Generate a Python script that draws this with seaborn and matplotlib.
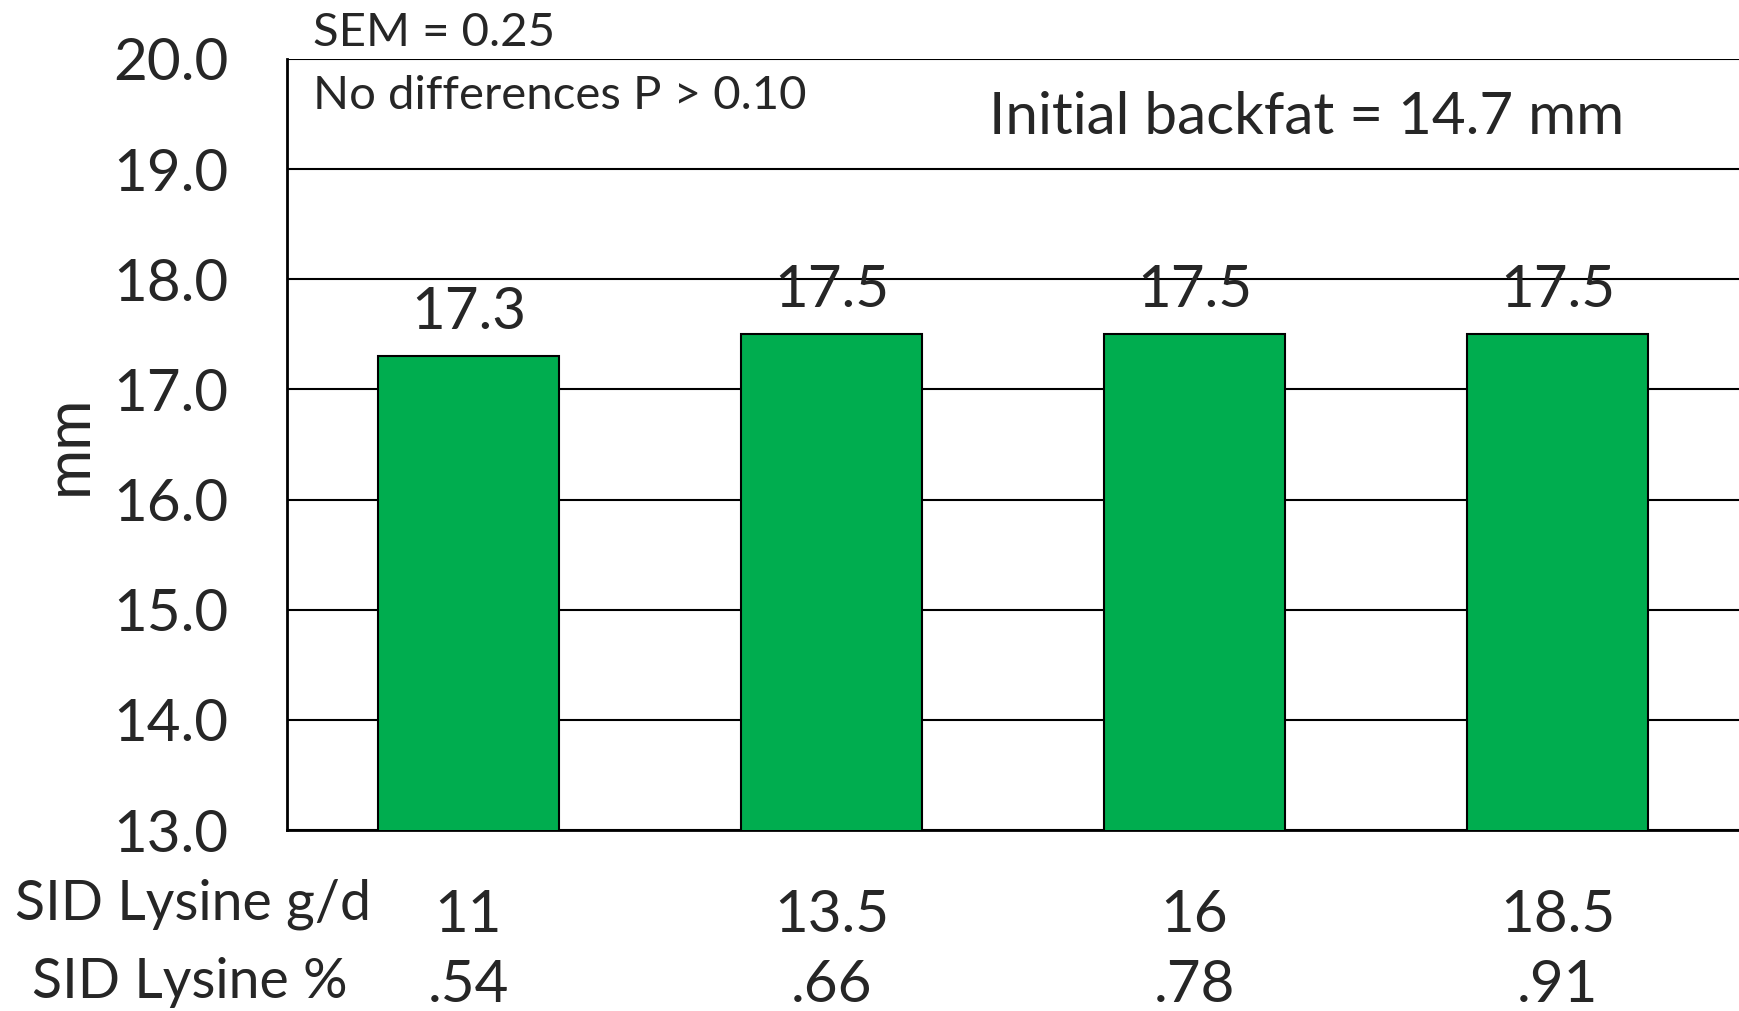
import numpy as np
import pandas as pd

import matplotlib
matplotlib.use("Agg")
import matplotlib.pyplot as plt
import matplotlib.transforms as mtransforms
import seaborn as sns


# chart data
lysine_gd = ["11", "13.5", "16", "18.5"]
lysine_pct = [".54", ".66", ".78", ".91"]
backfat_mm = [17.3, 17.5, 17.5, 17.5]
bar_labels = ["17.3", "17.5", "17.5", "17.5"]
y_ticks = [13.0, 14.0, 15.0, 16.0, 17.0, 18.0, 19.0, 20.0]


def main():
    sns.set_style("white")
    plt.rcParams["font.family"] = ["Lato", "DejaVu Sans"]

    df = pd.DataFrame({"lys": lysine_gd, "backfat": backfat_mm})

    fig = plt.figure(figsize=(17.39, 10.11), dpi=100)
    ax = fig.add_axes([287 / 1739, 1 - 830 / 1011, 1 - 287 / 1739, (830 - 59) / 1011])

    sns.barplot(data=df, x="lys", y="backfat", color="#00AD4F", saturation=1,
                width=0.5, edgecolor="black", linewidth=1.5, ax=ax, zorder=3)

    ax.set_ylim(13, 20)
    ax.set_xlim(-0.5, 3.5)
    ax.set_yticks(y_ticks)
    ax.set_yticklabels([f"{v:.1f}" for v in y_ticks], fontsize=42)
    ax.tick_params(axis="y", length=0, pad=42)
    ax.set_xticks(range(len(lysine_gd)))
    ax.set_xticklabels([])
    ax.tick_params(axis="x", length=0)
    ax.set_xlabel("")
    ax.set_ylabel("mm", fontsize=44)
    ax.yaxis.set_label_coords(-(287 - 98) / (1739 - 287), 0.5)

    ax.yaxis.grid(True, color="black", linewidth=1.5)
    ax.set_axisbelow(True)
    for side in ["top", "right"]:
        ax.spines[side].set_visible(False)
    for side in ["left", "bottom"]:
        ax.spines[side].set_color("black")
        ax.spines[side].set_linewidth(2)

    # value labels over bars
    for i, (v, lab) in enumerate(zip(backfat_mm, bar_labels)):
        ax.text(i, v + 0.25, lab, ha="center", va="baseline", fontsize=42)

    # two rows of x category labels (x from data, y in figure coords)
    trans = mtransforms.blended_transform_factory(ax.transData, fig.transFigure)
    for i, (a, b) in enumerate(zip(lysine_gd, lysine_pct)):
        ax.text(i, 1 - 915 / 1011, a, transform=trans, ha="center", va="center", fontsize=42)
        ax.text(i, 1 - 986 / 1011, b, transform=trans, ha="center", va="center", fontsize=42)

    # annotations
    fig.text(313 / 1739, 1 - 33 / 1011, "SEM = 0.25", fontsize=34, va="center")
    fig.text(313 / 1739, 1 - 96 / 1011, "No differences P > 0.10", fontsize=34, va="center")
    fig.text(989 / 1739, 1 - 118 / 1011, "Initial backfat = 14.7 mm", fontsize=42, va="center")

    # row headers under the axis
    fig.text(193 / 1739, 1 - 904 / 1011, "SID Lysine g/d", fontsize=40, ha="center", va="center")
    fig.text(190 / 1739, 1 - 982 / 1011, "SID Lysine %", fontsize=40, ha="center", va="center")

    fig.savefig("out.png", dpi=100)


if __name__ == '__main__':
    main()
